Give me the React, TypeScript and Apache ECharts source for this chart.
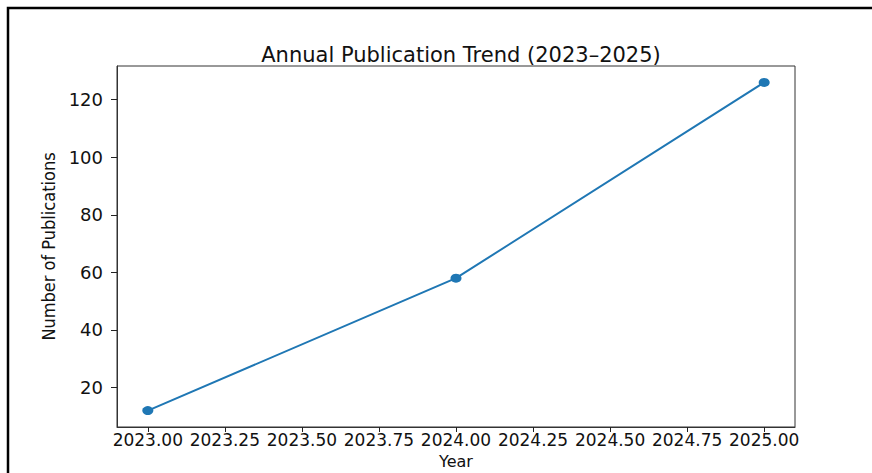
import React, { useEffect, useRef } from "react";
import * as echarts from "echarts";

const years = [2023, 2024, 2025];
const publications = [12, 58, 126];
const xTicks = [2023, 2023.25, 2023.5, 2023.75, 2024, 2024.25, 2024.5, 2024.75, 2025];
const yTicks = [20, 40, 60, 80, 100, 120];
const titleText = "Annual Publication Trend (2023–2025)";
const xName = "Year";
const yName = "Number of Publications";

export default function App() {
  const ref = useRef<HTMLDivElement>(null);
  useEffect(() => {
    document.body.style.margin = "0";
    if (!ref.current) return;
    const chart = echarts.init(ref.current, null, { renderer: "svg" });
    const axisColor = "#222";
    chart.setOption({
      animation: false,
      backgroundColor: "#fff",
      title: {
        text: titleText,
        left: 456,
        textAlign: "center",
        top: 39,
        textStyle: { fontFamily: "DejaVu Sans", fontSize: 21, fontWeight: "normal", color: "#111" },
      },
      graphic: [
        {
          type: "rect",
          shape: { x: 8, y: 8, width: 920, height: 520 },
          style: { fill: "none", stroke: "#000", lineWidth: 2.5 },
          silent: true,
        },
      ],
      grid: {
        left: 117,
        top: 66,
        right: 77,
        bottom: 46,
        show: true,
        borderColor: "#333",
        borderWidth: 1,
        backgroundColor: "transparent",
        containLabel: false,
        outerBoundsMode: "none",
      },
      xAxis: {
        type: "value",
        min: 2022.9,
        max: 2025.1,
        name: xName,
        nameLocation: "middle",
        nameGap: 27,
        nameMoveOverlap: false,
        nameTextStyle: { fontFamily: "DejaVu Sans", fontSize: 16, color: "#111", verticalAlign: "top", lineHeight: 15 },
        axisLine: { show: true, lineStyle: { color: "#333", width: 1 } },
        axisTick: { show: true, inside: false, length: 5, lineStyle: { color: axisColor, width: 1 }, customValues: xTicks },
        axisLabel: {
          customValues: xTicks,
          margin: 5,
          fontFamily: "DejaVu Sans",
          fontSize: 17,
          lineHeight: 16,
          color: "#111",
          formatter: (v: number) => v.toFixed(2),
        },
        splitLine: { show: false },
      },
      yAxis: {
        type: "value",
        min: 6.3,
        max: 131.7,
        name: yName,
        nameLocation: "middle",
        nameRotate: 90,
        nameGap: 60,
        nameMoveOverlap: false,
        nameTextStyle: { fontFamily: "Liberation Sans Narrow, DejaVu Sans Condensed, sans-serif", fontSize: 18, color: "#111" },
        axisLine: { show: true, lineStyle: { color: "#333", width: 1 } },
        axisTick: { show: true, inside: false, length: 6, lineStyle: { color: axisColor, width: 1 }, customValues: yTicks },
        axisLabel: {
          customValues: yTicks,
          margin: 14,
          fontFamily: "DejaVu Sans",
          fontSize: 18,
          color: "#111",
        },
        splitLine: { show: false },
      },
      series: [
        {
          type: "line",
          data: years.map((y, i) => [y, publications[i]]),
          lineStyle: { color: "#1f77b4", width: 2 },
          itemStyle: { color: "#1f77b4" },
          symbol: "circle",
          symbolSize: [11, 9],
          showSymbol: true,
        },
      ],
    });
    return () => chart.dispose();
  }, []);
  return <div ref={ref} style={{ width: 872, height: 473 }} />;
}
